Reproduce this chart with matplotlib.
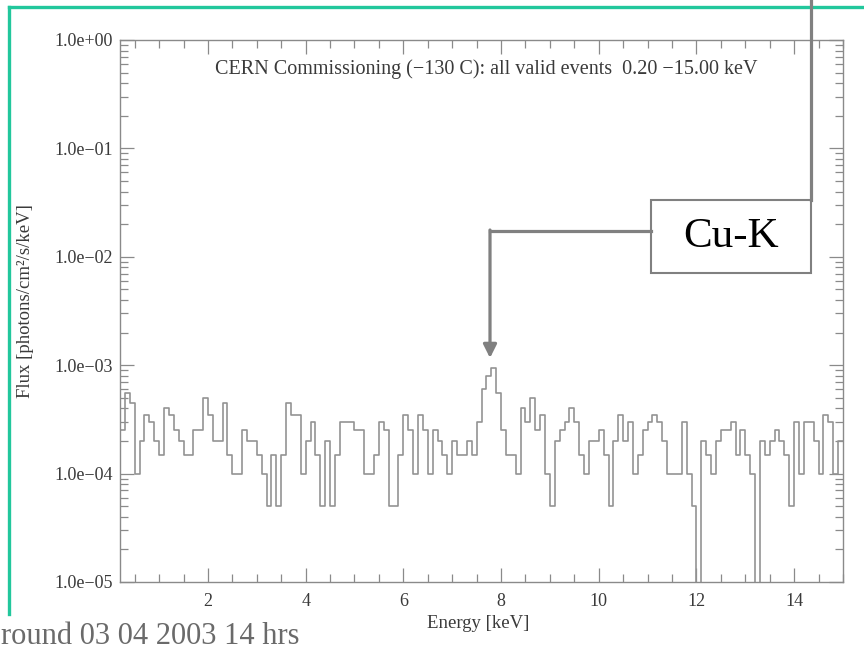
import numpy as np
import matplotlib
matplotlib.use("Agg")
import matplotlib.pyplot as plt
from matplotlib.patches import Rectangle
from matplotlib.lines import Line2D
from matplotlib.ticker import FixedLocator, LogLocator, MultipleLocator, FuncFormatter

# spectrum: counts per 0.1 keV bin, 0.2 - 15.0 keV
e_lo = 0.2
bin_width = 0.1
flux_per_count = 5.0e-5
counts = [
    5, 11, 9, 2, 4, 7, 6, 4, 3, 8,
    7, 5, 4, 3, 3, 5, 5, 10, 7, 4,
    4, 9, 3, 2, 2, 5, 4, 4, 3, 2,
    1, 3, 1, 3, 9, 7, 7, 2, 4, 6,
    3, 1, 4, 1, 3, 6, 6, 6, 5, 5,
    2, 2, 3, 6, 5, 1, 1, 3, 7, 5,
    2, 7, 5, 2, 5, 4, 3, 2, 4, 3,
    3, 4, 3, 6, 12, 16, 19, 11, 5, 3,
    3, 2, 8, 6, 10, 5, 7, 2, 1, 4,
    5, 6, 8, 6, 3, 2, 4, 4, 5, 3,
    1, 4, 7, 4, 6, 2, 3, 5, 6, 7,
    6, 4, 2, 2, 2, 6, 2, 1, 0, 4,
    3, 2, 4, 5, 5, 6, 3, 5, 3, 2,
    0, 4, 3, 4, 5, 4, 3, 1, 6, 2,
    6, 6, 4, 2, 7, 6, 2, 4,
]
x_ticks = [2, 4, 6, 8, 10, 12, 14]
y_decades = [1e-5, 1e-4, 1e-3, 1e-2, 1e-1, 1e0]

title_txt = "CERN Commissioning (\u2212130 C): all valid events  0.20 \u221215.00 keV"
line_label = "Cu-K"
footer_txt = "round 03 04 2003 14 hrs"

serif = ["Liberation Serif", "DejaVu Serif"]
plt.rcParams["font.family"] = serif

W, H = 864, 650
fig = plt.figure(figsize=(W / 100, H / 100), dpi=100)
fig.patch.set_facecolor("white")

ax = fig.add_axes([120 / W, 68 / H, 723 / W, 542 / H])

counts = np.array(counts, dtype=float)
edges = e_lo + bin_width * np.arange(len(counts) + 1)
flux = np.where(counts > 0, counts * flux_per_count, 1e-9)
ax.step(edges, np.append(flux, flux[-1]), where="post", color="#939393", lw=1.2)

ax.set_yscale("log")
ax.set_xlim(0.2, 15.0)
ax.set_ylim(1e-5, 1.0)

axcol = "#8a8a8a"
for s in ax.spines.values():
    s.set_color(axcol)
    s.set_linewidth(1.0)

ax.xaxis.set_major_locator(FixedLocator(x_ticks))
ax.xaxis.set_minor_locator(MultipleLocator(0.5))
ax.yaxis.set_major_locator(FixedLocator(y_decades))
ax.yaxis.set_minor_locator(LogLocator(base=10, subs=np.arange(2, 10)))


def fmt_y(v, pos):
    exp = int(round(np.log10(v)))
    s = f"1.0e{exp:+03d}"
    return s.replace("-", "\u2212")


ax.yaxis.set_major_formatter(FuncFormatter(fmt_y))
ax.tick_params(which="both", direction="in", top=True, right=True, color=axcol,
               labelcolor="#3a3a3a", labelsize=13, width=0.9)
ax.tick_params(which="major", length=10)
ax.tick_params(which="minor", length=6)
ax.tick_params(axis="x", pad=8)
ax.tick_params(axis="y", pad=5)
ax.tick_params(axis="x", which="minor", labelbottom=False)

ax.set_xlabel("Energy [keV]", fontsize=13.5, color="#3a3a3a")
ax.set_ylabel("Flux [photons/cm\u00b2/s/keV]", fontsize=13.5, color="#3a3a3a")
ax.xaxis.set_label_coords((478 - 120) / 723, (582 - 615) / 542)
ax.yaxis.set_label_coords((34 - 120) / 723, (582 - 301) / 542)

ax.text((486 - 120) / 723, (582 - 69) / 542, title_txt, transform=ax.transAxes,
        ha="center", va="center", fontsize=14.5, color="#3a3a3a")

# green slide frame
green = "#22c79c"
fig.add_artist(Line2D([9 / W, 1.0], [1 - 7 / H, 1 - 7 / H], color=green, lw=2.4,
                      transform=fig.transFigure))
fig.add_artist(Line2D([9 / W, 9 / W], [1 - 7 / H, 1 - 614 / H], color=green, lw=2.4,
                      transform=fig.transFigure))

# Cu-K callout
gcol = "#808080"
fig.add_artist(Line2D([811 / W, 811 / W], [1.0, 1 - 200 / H], color=gcol, lw=2.3,
                      transform=fig.transFigure))
fig.add_artist(Line2D([651 / W, 490 / W], [1 - 231 / H, 1 - 231 / H], color=gcol, lw=2.3,
                      transform=fig.transFigure))
fig.add_artist(Rectangle((651 / W, 1 - 273 / H), 160 / W, 73 / H, facecolor="white",
                         edgecolor=gcol, lw=1.5, transform=fig.transFigure))
fig.text(731 / W, 1 - 237 / H, line_label, ha="center", va="center",
         fontsize=31, color="black")
ax.annotate("", xy=(490 / W, 1 - 358 / H), xycoords="figure fraction",
            xytext=(490 / W, 1 - 230 / H), textcoords="figure fraction",
            arrowprops=dict(arrowstyle="-|>", color=gcol, lw=2.3, mutation_scale=20,
                            shrinkA=0, shrinkB=0))

fig.text(1 / W, 6 / H, footer_txt, ha="left", va="baseline", fontsize=22,
         color="#6a6a6a")

fig.savefig("out.png", dpi=100)
